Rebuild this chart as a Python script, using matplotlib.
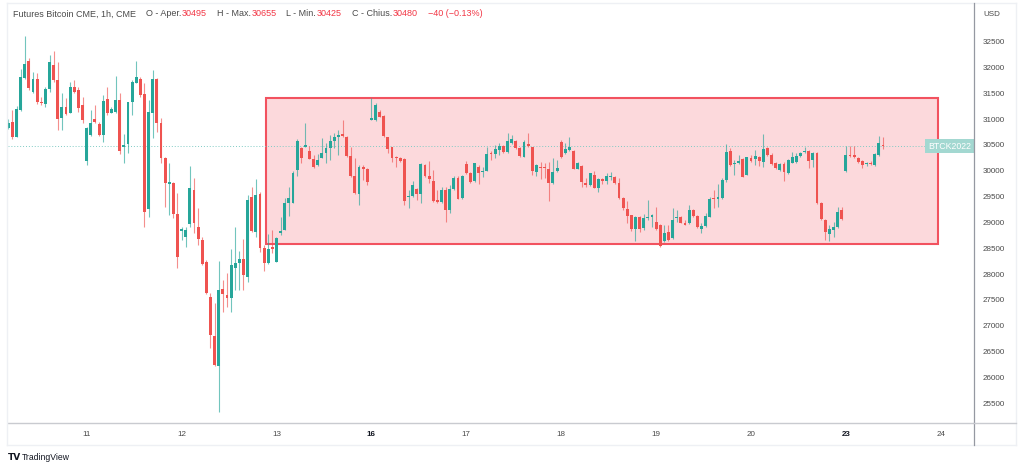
import matplotlib
matplotlib.use("Agg")
import matplotlib.pyplot as plt
from matplotlib.patches import Rectangle
from matplotlib.lines import Line2D
import matplotlib.transforms as mtransforms

# ---------------- data (hourly candles, CME Bitcoin futures) ----------------
opens = [
    30822, 30951, 30661, 31177, 31790, 32132, 31519, 31771, 31339, 31293, 31577, 32048,
    31758, 31016, 31229, 31126, 31629, 31564, 31274, 30196, 30693, 30997, 30906, 30693,
    31397, 31126, 31145, 31371, 30468, 30519, 31339, 31706, 31771, 31487, 29261, 31113,
    31771, 30932, 30242, 29745, 29771, 29165, 28842, 28713, 28971, 29629, 28920, 28661,
    28242, 27551, 26803, 26229, 27706, 27597, 27532, 28113, 28210, 28294, 27952, 29487,
    28823, 29545, 28500, 28223, 28532, 28242, 28803, 28855, 29371, 29384, 30016, 30436,
    30468, 30384, 30223, 30113, 30255, 30352, 30436, 30584, 30649, 30713, 30662, 30287,
    29900, 29552, 30068, 30029, 30984, 30984, 31145, 31062, 30649, 30455, 30274, 30255,
    30223, 29487, 29513, 29648, 29552, 30113, 29900, 29810, 29436, 29403, 29629, 29242,
    29642, 29855, 29468, 30132, 29952, 29810, 30081, 29978, 30003, 30352, 30326, 30404,
    30481, 30358, 30533, 30584, 30436, 30274, 30520, 30455, 29984, 30081, 30068, 30029,
    29758, 29997, 30558, 30339, 30404, 30391, 30042, 30094, 29758, 29726, 29920, 29674,
    29842, 29810, 29875, 29887, 29758, 29468, 29255, 29139, 28868, 29113, 28887, 29087,
    29113, 29016, 28952, 28642, 28823, 28694, 29094, 29113, 28997, 28984, 29242, 29126,
    28868, 28932, 29113, 29481, 29449, 29468, 29823, 30391, 30133, 30146, 30223, 29920,
    30242, 30223, 30275, 30178, 30436, 30307, 30158, 30016, 30133, 29952, 30158, 30178,
    30288, 30365, 30391, 30210, 30352, 29384, 29049, 28778, 28855, 28907, 29242, 30004,
    30307, 30307, 30255, 30197, 30133, 30146, 30113, 30307, 30495,
]
highs = [
    30997, 31177, 31255, 31965, 32610, 32177, 31919, 31887, 31435, 31629, 32242, 32326,
    32113, 31500, 31403, 31726, 31758, 31629, 31435, 30855, 31177, 31274, 30951, 31468,
    31629, 31242, 31835, 31500, 30706, 31339, 31758, 32132, 31823, 31694, 31371, 31952,
    31790, 31016, 30260, 30145, 29790, 29565, 28920, 28920, 30094, 29855, 29274, 28726,
    28274, 27629, 27435, 28255, 27887, 28016, 28481, 28920, 28455, 28674, 29533, 29694,
    29836, 29597, 28565, 28777, 28855, 28710, 29113, 29468, 29694, 30003, 30610, 30468,
    30920, 30481, 30307, 30326, 30629, 30532, 30694, 30739, 30791, 30984, 30674, 30468,
    30242, 30113, 30113, 30049, 31404, 31307, 31178, 31081, 30662, 30468, 30290, 30274,
    30240, 29629, 29810, 29661, 30145, 30126, 30197, 30016, 29629, 29694, 29694, 29726,
    29900, 29900, 29910, 30197, 29984, 30158, 30113, 30081, 30455, 30391, 30500, 30532,
    30500, 30739, 30694, 30597, 30455, 30597, 30726, 30468, 30126, 30178, 30158, 30178,
    30242, 30210, 30597, 30533, 30649, 30404, 30170, 30113, 29855, 29965, 30004, 29855,
    29855, 29952, 29984, 29900, 29855, 29487, 29423, 29150, 29126, 29126, 29165, 29436,
    29165, 29307, 28965, 28952, 28952, 29274, 29242, 29126, 29049, 29339, 29255, 29145,
    28984, 29178, 29487, 29629, 29745, 29855, 30520, 30436, 30210, 30307, 30242, 30275,
    30307, 30404, 30288, 30713, 30455, 30352, 30178, 30158, 30178, 30223, 30371, 30339,
    30371, 30455, 30404, 30371, 30371, 29403, 29061, 28952, 29016, 29307, 29294, 30481,
    30481, 30481, 30275, 30210, 30178, 30197, 30339, 30675, 30655,
]
lows = [
    30803, 30609, 30648, 31160, 31780, 31564, 31500, 31293, 31274, 31242, 31532, 31726,
    30790, 30790, 31081, 31113, 31500, 31145, 30932, 30113, 30674, 30919, 30674, 30564,
    31081, 31113, 31126, 30326, 30145, 30339, 31081, 31694, 31435, 28906, 29100, 30629,
    30758, 30145, 29306, 29145, 29081, 28113, 28661, 28520, 28920, 28790, 28565, 28180,
    27620, 26564, 26220, 25338, 27274, 27371, 27274, 27693, 27693, 27693, 27855, 28823,
    28726, 28436, 28068, 28197, 28403, 28230, 28760, 28845, 29126, 29371, 29900, 30158,
    30455, 30223, 30049, 30100, 30242, 30145, 30210, 30436, 30307, 30662, 30274, 29874,
    29550, 29339, 29823, 29726, 30975, 30971, 31036, 30662, 30339, 30178, 30068, 30178,
    29339, 29274, 29500, 29436, 29384, 29887, 29771, 29403, 29384, 29371, 29016, 29190,
    29629, 29448, 29455, 29940, 29771, 29790, 29745, 29874, 29990, 30210, 30242, 30307,
    30339, 30339, 30520, 30416, 30274, 30261, 30468, 29920, 29907, 29836, 29855, 29423,
    29745, 29984, 30242, 30326, 30391, 30029, 30029, 29681, 29681, 29707, 29662, 29597,
    29746, 29746, 29823, 29746, 29449, 29242, 28984, 28842, 28648, 28823, 28855, 29049,
    28920, 28855, 28530, 28629, 28648, 28674, 29016, 28984, 28945, 28971, 29113, 28887,
    28790, 28920, 29100, 29274, 29307, 29449, 29791, 30094, 29920, 30133, 29875, 29910,
    30178, 30113, 30094, 30081, 30288, 30113, 30029, 30004, 29810, 29939, 30146, 30158,
    30262, 30352, 30049, 30081, 29358, 29049, 28661, 28648, 28713, 28887, 29049, 29984,
    30275, 30242, 30158, 30049, 30094, 30113, 30094, 30288, 30425,
]
closes = [
    30919, 30648, 31197, 31823, 32061, 31597, 31771, 31339, 31306, 31577, 32100, 31758,
    30997, 31229, 31100, 31616, 31532, 31210, 30984, 30822, 30932, 30951, 30693, 31358,
    31113, 31203, 31371, 30390, 30500, 31326, 31726, 31823, 31468, 29209, 31145, 31771,
    30919, 30242, 29758, 29790, 29158, 28339, 28868, 28855, 29674, 28984, 28681, 28197,
    27642, 26822, 26242, 27693, 27616, 27532, 28177, 28223, 28294, 27984, 29436, 28842,
    29533, 28500, 28223, 28487, 28481, 28694, 28830, 29371, 29481, 29965, 30584, 30255,
    30494, 30229, 30068, 30210, 30352, 30449, 30584, 30662, 30687, 30674, 30287, 29900,
    29565, 30081, 30042, 29778, 31016, 31275, 31049, 30674, 30423, 30255, 30242, 30197,
    29423, 29513, 29726, 29552, 30132, 29900, 29836, 29423, 29403, 29629, 29242, 29642,
    29861, 29455, 29900, 29952, 29790, 30145, 29952, 30003, 30326, 30326, 30416, 30481,
    30358, 30584, 30610, 30436, 30287, 30565, 30481, 30003, 30113, 30061, 30049, 29771,
    29984, 30049, 30274, 30417, 30468, 30042, 30158, 29778, 29726, 29952, 29674, 29842,
    29810, 29900, 29900, 29758, 29468, 29274, 29126, 28868, 29100, 28868, 29081, 29113,
    29145, 28868, 28545, 28790, 28661, 29049, 29113, 28997, 28952, 29242, 29126, 28920,
    28932, 29126, 29449, 29449, 29487, 29823, 30371, 30113, 30158, 30197, 29887, 30262,
    30197, 30288, 30197, 30417, 30307, 30133, 30049, 30133, 29984, 30210, 30275, 30294,
    30352, 30391, 30197, 30352, 29371, 29061, 28823, 28868, 28907, 29210, 29061, 30307,
    30288, 30262, 30178, 30113, 30158, 30126, 30326, 30533, 30480,
]

day_tick_index = [20, 43, 66, 89, 112, 135, 158, 181, 204, 227]
day_tick_labels = ["11", "12", "13", "16", "17", "18", "19", "20", "23", "24"]
week_start_labels = ["16", "23"]

price_ticks = list(range(25500, 33000, 500))

range_box_start, range_box_end = 63.46, 226.4
range_box_low, range_box_high = 28580, 31410

last_price = 30480
symbol_label = "BTCK2022"

title_text = "Futures Bitcoin CME, 1h, CME"
ohlc_names = ["O - Aper.", "H - Max.", "L - Min.", "C - Chius."]
ohlc_values = ["30495", "30655", "30425", "30480"]
change_text = "\u221240 (\u22120.13%)"

# ---------------- style ----------------
W, H, DPI = 1024, 470, 100
UP, DOWN = "#26a69a", "#ef5350"
TXT = "#4a4a4a"
FONT = "Liberation Sans"
FS = 5.8
HFS = 6.5

fig = plt.figure(figsize=(W / DPI, H / DPI), dpi=DPI, facecolor="white")
ax = fig.add_axes([8 / W, (H - 423) / H, (974 - 8) / W, (423 - 3) / H])
ax.set_facecolor("white")

n = len(opens)
idx = list(range(1, n + 1))

# range rectangle
ax.add_patch(Rectangle((range_box_start, range_box_low),
                       range_box_end - range_box_start, range_box_high - range_box_low,
                       facecolor=(242 / 255, 54 / 255, 69 / 255, 0.19),
                       edgecolor="#f2525f", linewidth=1.5, zorder=1))

# candles
body_w = 0.7
for i, o, h, l, c in zip(idx, opens, highs, lows, closes):
    col = UP if c >= o else DOWN
    ax.vlines(i, l, h, color=col, linewidth=0.8, alpha=0.65, zorder=2)
    lo, hi = min(o, c), max(o, c)
    hgt = max(hi - lo, 14)
    ax.bar(i, hgt, bottom=lo, width=body_w, color=col, linewidth=0, zorder=3)

# last price dotted line
ax.axhline(last_price, color="#80cbc4", linestyle=(0, (1, 2)), linewidth=0.7, zorder=1.5)
ax.text(0.997, last_price, symbol_label,
        transform=mtransforms.blended_transform_factory(ax.transAxes, ax.transData),
        ha="right", va="center", fontsize=6.3, color="white", family=FONT, zorder=5,
        bbox=dict(boxstyle="square,pad=0.3", facecolor="#a3d8d1", edgecolor="none"))

ax.set_xlim(0.93, 235.05)
ax.set_ylim(25118, 33249)

# axes styling
for s in ["top", "left", "right"]:
    ax.spines[s].set_visible(False)
ax.spines["bottom"].set_color("#c9cbd0")
ax.spines["bottom"].set_linewidth(1.0)

ax.yaxis.tick_right()
ax.set_yticks(price_ticks)
ax.set_yticklabels([str(p) for p in price_ticks])
ax.tick_params(axis="y", length=0, pad=6.5, labelsize=FS, labelcolor=TXT)
for lab in ax.get_yticklabels():
    lab.set_family(FONT)

ax.set_xticks(day_tick_index)
ax.set_xticklabels(day_tick_labels)
ax.tick_params(axis="x", length=0, pad=6, labelsize=FS, labelcolor=TXT)
for lab in ax.get_xticklabels():
    lab.set_family(FONT)
    if lab.get_text() in week_start_labels:
        lab.set_fontweight("bold")
        lab.set_color("#131722")

# outer frame and price-axis separator
def fig_line(x0, y0, x1, y1, color, lw):
    fig.add_artist(Line2D([x0 / W, x1 / W], [1 - y0 / H, 1 - y1 / H],
                          transform=fig.transFigure, color=color, linewidth=lw))

fig_line(7, 3, 1016, 3, "#eef0f4", 1.0)
fig_line(7, 3, 7, 445, "#eef0f4", 1.0)
fig_line(1016, 3, 1016, 445, "#eef0f4", 1.0)
fig_line(7, 445, 1016, 445, "#eef0f4", 1.0)
fig_line(974, 3, 974, 445, "#9598a1", 0.9)
fig_line(974, 423, 1016, 423, "#c9cbd0", 1.0)

fig.text(983 / W, 1 - 14 / H, "USD", fontsize=FS, color=TXT, family=FONT, ha="left", va="center")

# header (sequential placement)
fig.canvas.draw()
renderer = fig.canvas.get_renderer()
RED_TXT = "#f23645"
y_head = 1 - 14 / H

def put(xpx, txt, color):
    t = fig.text(xpx / W, y_head, txt, fontsize=HFS, family=FONT, ha="left", va="center", color=color)
    return xpx + t.get_window_extent(renderer).width

x = put(13, title_text, TXT)
x += 10
for name, val in zip(ohlc_names, ohlc_values):
    x = put(x, name, TXT)
    x = put(x + 0.5, val, RED_TXT)
    x += 10
put(x, change_text, RED_TXT)

# TradingView footer
fig.text(8 / W, 1 - 458 / H, "TV", fontsize=6.5, fontweight="bold", family="DejaVu Sans",
         color="#131722", ha="left", va="center")
fig.text(22 / W, 1 - 458 / H, "TradingView", fontsize=6.2, family=FONT,
         color="#131722", ha="left", va="center")

fig.savefig("out.png", dpi=DPI, facecolor="white")
